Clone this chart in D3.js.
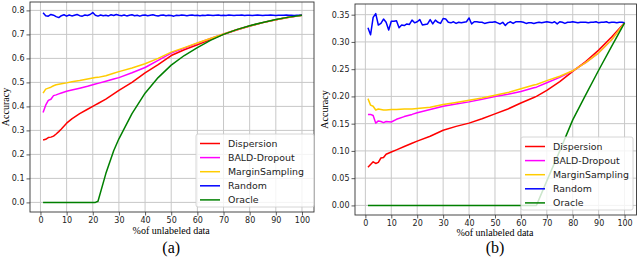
<!DOCTYPE html>
<html>
<head>
<meta charset="utf-8">
<script src="https://cdn.jsdelivr.net/npm/d3@7"></script>
<style>
  body { margin: 0; background: #fff; }
  svg { display: block; }
</style>
</head>
<body>
<div id="chart"></div>
<script>
// series names and colours (shared by both panels)
const seriesNames = ["Dispersion", "BALD-Dropout", "MarginSampling", "Random", "Oracle"];
const seriesColors = ["#ff0000", "#ff00ff", "#ffcc00", "#0000ff", "#008000"];

const xTicks = [0, 10, 20, 30, 40, 50, 60, 70, 80, 90, 100];
const yTicksA = [0.0, 0.1, 0.2, 0.3, 0.4, 0.5, 0.6, 0.7, 0.8];
const yTicksB = [0.00, 0.05, 0.10, 0.15, 0.20, 0.25, 0.30, 0.35];

// ---- panel (a) ----
const pctA = [1, 2, 3, 4, 5, 6, 7, 8, 10, 12, 15, 18, 20, 21, 22, 25, 28, 30, 35, 40, 45, 50, 55, 60, 65, 70, 75, 80, 85, 90, 95, 100];
const dispersionA = [0.260, 0.263, 0.270, 0.272, 0.276, 0.285, 0.295, 0.306, 0.330, 0.348, 0.370, 0.388, 0.400, 0.406, 0.412, 0.430, 0.452, 0.467, 0.500, 0.540, 0.574, 0.612, 0.636, 0.657, 0.679, 0.700, 0.718, 0.735, 0.749, 0.761, 0.771, 0.780];
const baldA = [0.375, 0.405, 0.425, 0.430, 0.445, 0.448, 0.452, 0.456, 0.463, 0.468, 0.476, 0.484, 0.490, 0.493, 0.496, 0.505, 0.514, 0.520, 0.540, 0.562, 0.592, 0.622, 0.643, 0.663, 0.683, 0.702, 0.719, 0.735, 0.749, 0.761, 0.771, 0.780];
const marginA = [0.455, 0.472, 0.476, 0.480, 0.486, 0.490, 0.492, 0.494, 0.498, 0.503, 0.508, 0.514, 0.518, 0.520, 0.521, 0.528, 0.538, 0.545, 0.560, 0.578, 0.600, 0.626, 0.645, 0.664, 0.683, 0.702, 0.719, 0.735, 0.749, 0.761, 0.771, 0.780];
const oracleA = [0, 0, 0, 0, 0, 0, 0, 0, 0, 0, 0, 0, 0, 0, 0.005, 0.120, 0.215, 0.265, 0.370, 0.455, 0.520, 0.572, 0.612, 0.645, 0.675, 0.700, 0.720, 0.736, 0.750, 0.762, 0.772, 0.780];
const pctDense = d3.range(1, 101);
const randomA = [
  0.790, 0.778, 0.776, 0.783, 0.780, 0.774, 0.770, 0.778, 0.782, 0.776,
  0.781, 0.777, 0.780, 0.783, 0.778, 0.776, 0.781, 0.779, 0.783, 0.791,
  0.780, 0.776, 0.781, 0.778, 0.780, 0.777, 0.782, 0.779, 0.783, 0.780,
  0.778, 0.781, 0.777, 0.780, 0.782, 0.778, 0.780, 0.776, 0.780, 0.781,
  0.778, 0.780, 0.782, 0.779, 0.777, 0.780, 0.781, 0.778, 0.780, 0.779,
  0.776, 0.780, 0.779, 0.781, 0.780, 0.778, 0.780, 0.781, 0.779, 0.780,
  0.778, 0.780, 0.779, 0.781, 0.780, 0.779, 0.780, 0.781, 0.779, 0.780,
  0.779, 0.781, 0.780, 0.779, 0.780, 0.780, 0.781, 0.779, 0.780, 0.780,
  0.779, 0.780, 0.781, 0.780, 0.779, 0.780, 0.780, 0.781, 0.780, 0.779,
  0.780, 0.780, 0.780, 0.781, 0.780, 0.780, 0.779, 0.780, 0.780, 0.780
];

// ---- panel (b) ----
const pctB = [1, 2, 3, 4, 5, 6, 7, 8, 10, 12, 15, 18, 20, 25, 30, 35, 40, 45, 50, 55, 60, 65, 66, 70, 75, 80, 85, 90, 95, 100];
const dispersionB = [0.070, 0.075, 0.080, 0.077, 0.079, 0.087, 0.088, 0.094, 0.098, 0.102, 0.108, 0.114, 0.118, 0.127, 0.138, 0.145, 0.151, 0.159, 0.168, 0.177, 0.188, 0.198, 0.200, 0.211, 0.227, 0.246, 0.264, 0.285, 0.309, 0.335];
const baldB = [0.167, 0.167, 0.165, 0.151, 0.155, 0.154, 0.152, 0.154, 0.153, 0.158, 0.163, 0.167, 0.170, 0.176, 0.182, 0.186, 0.190, 0.195, 0.200, 0.204, 0.209, 0.216, 0.217, 0.225, 0.235, 0.247, 0.262, 0.280, 0.304, 0.335];
const marginB = [0.196, 0.184, 0.182, 0.175, 0.177, 0.176, 0.175, 0.175, 0.176, 0.176, 0.177, 0.177, 0.178, 0.180, 0.185, 0.189, 0.193, 0.197, 0.202, 0.207, 0.214, 0.221, 0.222, 0.229, 0.237, 0.247, 0.262, 0.280, 0.304, 0.335];
const oracleB = [0, 0, 0, 0, 0, 0, 0, 0, 0, 0, 0, 0, 0, 0, 0, 0, 0, 0, 0, 0, 0, 0, 0, 0.045, 0.100, 0.157, 0.203, 0.248, 0.292, 0.335];
const randomB = [
  0.326, 0.313, 0.345, 0.352, 0.331, 0.334, 0.342, 0.336, 0.322, 0.338,
  0.338, 0.339, 0.326, 0.331, 0.330, 0.333, 0.332, 0.340, 0.335, 0.337,
  0.341, 0.331, 0.332, 0.333, 0.341, 0.333, 0.340, 0.336, 0.334, 0.343,
  0.342, 0.336, 0.335, 0.337, 0.334, 0.336, 0.335, 0.336, 0.337, 0.344,
  0.333, 0.337, 0.337, 0.336, 0.336, 0.334, 0.335, 0.336, 0.336, 0.337,
  0.335, 0.333, 0.336, 0.330, 0.335, 0.337, 0.334, 0.337, 0.337, 0.337,
  0.336, 0.334, 0.335, 0.335, 0.334, 0.335, 0.336, 0.335, 0.336, 0.337,
  0.336, 0.335, 0.337, 0.333, 0.337, 0.336, 0.334, 0.336, 0.336, 0.337,
  0.336, 0.335, 0.336, 0.336, 0.336, 0.335, 0.336, 0.336, 0.337, 0.335,
  0.336, 0.336, 0.337, 0.335, 0.336, 0.336, 0.335, 0.336, 0.336, 0.335
];

const W = 640, H = 260;
const svg = d3.select("#chart").append("svg").attr("width", W).attr("height", H);

const tickFont = "'DejaVu Sans', sans-serif";
const serifFont = "'Liberation Serif', 'Times New Roman', serif";

function drawPanel(p) {
  const x = d3.scaleLinear().domain([-4, 104.6]).range([p.left, p.right]);
  const y = d3.scaleLinear().domain(p.yDomain).range([p.bottom, p.top]);

  const g = svg.append("g");

  // grid
  g.append("g").selectAll("line").data(xTicks).join("line")
    .attr("x1", d => x(d)).attr("x2", d => x(d))
    .attr("y1", p.top).attr("y2", p.bottom)
    .attr("stroke", "#c8c8c8").attr("stroke-width", 1);
  g.append("g").selectAll("line").data(p.yTicks).join("line")
    .attr("x1", p.left).attr("x2", p.right)
    .attr("y1", d => y(d)).attr("y2", d => y(d))
    .attr("stroke", "#c8c8c8").attr("stroke-width", 1);

  // axes
  const xAxis = g.append("g")
    .attr("transform", `translate(0,${p.bottom})`)
    .call(d3.axisBottom(x).tickValues(xTicks).tickSize(3.5).tickPadding(2).tickFormat(d3.format("d")));
  const yAxis = g.append("g")
    .attr("transform", `translate(${p.left},0)`)
    .call(d3.axisLeft(y).tickValues(p.yTicks).tickSize(3.5).tickPadding(2).tickFormat(d3.format(p.yFormat)));
  [xAxis, yAxis].forEach(a => {
    a.select(".domain").remove();
    a.selectAll(".tick line").attr("stroke", "#333").attr("stroke-width", 0.8);
    a.selectAll(".tick text").attr("fill", "#222")
      .style("font-family", tickFont).style("font-size", "8px");
  });

  // lines
  const line = d3.line().x(d => x(d[0])).y(d => y(d[1]));
  const clipId = "clip" + p.id;
  svg.append("clipPath").attr("id", clipId).append("rect")
    .attr("x", p.left).attr("y", p.top)
    .attr("width", p.right - p.left).attr("height", p.bottom - p.top);
  const lines = g.append("g").attr("clip-path", `url(#${clipId})`);
  p.series.forEach((s, i) => {
    lines.append("path")
      .datum(d3.zip(s.xs, s.ys))
      .attr("d", line)
      .attr("fill", "none")
      .attr("stroke", seriesColors[i])
      .attr("stroke-width", 1.5)
      .attr("stroke-linejoin", "round");
  });

  // frame
  g.append("rect")
    .attr("x", p.left).attr("y", p.top)
    .attr("width", p.right - p.left).attr("height", p.bottom - p.top)
    .attr("fill", "none").attr("stroke", "#333").attr("stroke-width", 0.9);

  // axis labels
  g.append("text")
    .attr("transform", `translate(${p.yLabelX},${(p.top + p.bottom) / 2}) rotate(-90)`)
    .attr("text-anchor", "middle")
    .style("font-family", serifFont).style("font-size", "10px")
    .text("Accuracy");
  g.append("text")
    .attr("x", (x(0) + x(100)) / 2).attr("y", p.bottom + p.xLabelDy)
    .attr("text-anchor", "middle")
    .style("font-family", serifFont).style("font-size", "10px")
    .text("%of unlabeled data");
  g.append("text")
    .attr("x", (x(0) + x(100)) / 2).attr("y", p.bottom + p.tagDy)
    .attr("text-anchor", "middle")
    .style("font-family", serifFont).style("font-size", "16px")
    .text(p.tag);

  // legend
  const lg = g.append("g").attr("transform", `translate(${p.legend[0]},${p.legend[1]})`);
  lg.append("rect")
    .attr("width", p.legend[2]).attr("height", 73).attr("rx", 2)
    .attr("fill", "#fff").attr("fill-opacity", 0.8)
    .attr("stroke", "#cccccc").attr("stroke-width", 0.8);
  seriesNames.forEach((n, i) => {
    const yy = 9.5 + i * 14.1;
    lg.append("line")
      .attr("x1", 4).attr("x2", 24).attr("y1", yy).attr("y2", yy)
      .attr("stroke", seriesColors[i]).attr("stroke-width", 1.5);
    lg.append("text")
      .attr("x", p.legendText).attr("y", yy).attr("dy", "0.35em")
      .style("font-family", tickFont).style("font-size", "9.4px").attr("fill", "#222")
      .text(n);
  });
}

drawPanel({
  id: "A", tag: "(a)",
  left: 30, right: 314, top: 2, bottom: 212,
  yDomain: [-0.04, 0.835], yTicks: yTicksA, yFormat: ".1f",
  yLabelX: 9, xLabelDy: 22, tagDy: 41,
  legend: [196, 134, 118], legendText: 32,
  series: [
    { xs: pctA, ys: dispersionA },
    { xs: pctA, ys: baldA },
    { xs: pctA, ys: marginA },
    { xs: pctDense, ys: randomA },
    { xs: pctA, ys: oracleA }
  ]
});

drawPanel({
  id: "B", tag: "(b)",
  left: 355, right: 636.5, top: 4, bottom: 215,
  yDomain: [-0.0176, 0.3696], yTicks: yTicksB, yFormat: ".2f",
  yLabelX: 328, xLabelDy: 21, tagDy: 38,
  legend: [521, 137, 112], legendText: 32,
  series: [
    { xs: pctB, ys: dispersionB },
    { xs: pctB, ys: baldB },
    { xs: pctB, ys: marginB },
    { xs: pctDense, ys: randomB },
    { xs: pctB, ys: oracleB }
  ]
});
</script>
</body>
</html>
